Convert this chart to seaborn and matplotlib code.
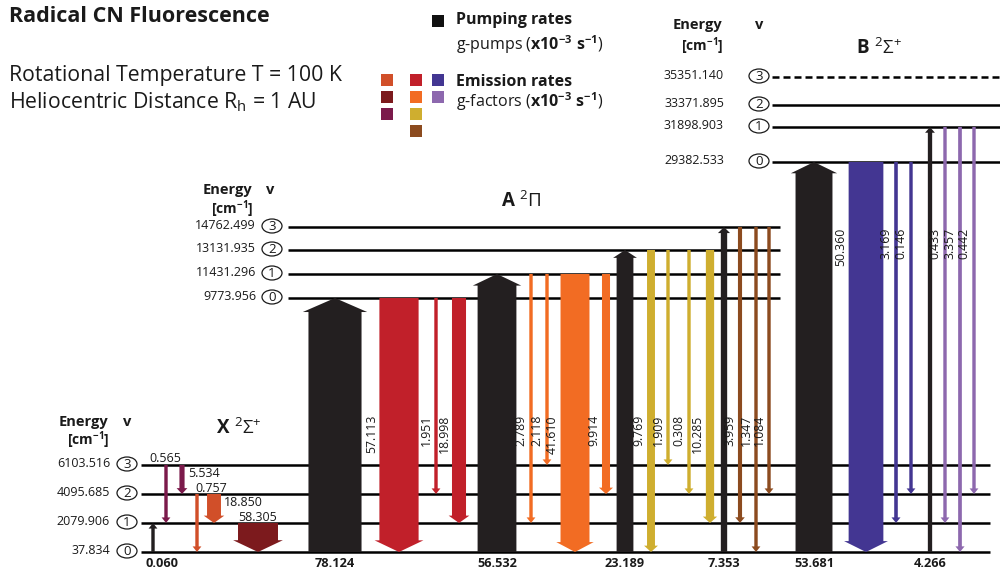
import matplotlib
matplotlib.use("Agg")
import matplotlib.pyplot as plt
from matplotlib.patches import FancyArrow, Ellipse
import pandas as pd
import seaborn as sns

# ---------------- data ----------------
# vibrational term energies (cm^-1) of the three electronic states, v = 0..3
x_energy = ["37.834", "2079.906", "4095.685", "6103.516"]
a_energy = ["9773.956", "11431.296", "13131.935", "14762.499"]
b_energy = ["29382.533", "31898.903", "33371.895", "35351.140"]

# pumping rates out of X(v=0) (x10^-3 s^-1)
pump_upper = ["X1", "A0", "A1", "A2", "A3", "B0", "B1"]
pump_rates = [0.060, 78.124, 56.532, 23.189, 7.353, 53.681, 4.266]

# emission rates, g-factors (x10^-3 s^-1)
emit_upper = ["X3", "X3", "X2", "X2", "X1",
              "A0", "A0", "A0",
              "A1", "A1", "A1", "A1",
              "A2", "A2", "A2", "A2",
              "A3", "A3", "A3",
              "B0", "B0", "B0",
              "B1", "B1", "B1"]
emit_lower = ["X1", "X2", "X0", "X1", "X0",
              "X0", "X2", "X1",
              "X1", "X3", "X0", "X2",
              "X0", "X3", "X2", "X1",
              "X1", "X0", "X2",
              "X0", "X1", "X2",
              "X1", "X0", "X2"]
emit_rates = [0.565, 5.534, 0.757, 18.850, 58.305,
              57.113, 1.951, 18.998,
              2.789, 2.118, 41.610, 9.914,
              9.769, 1.909, 0.308, 10.285,
              3.959, 1.347, 1.084,
              50.360, 3.169, 0.146,
              0.433, 3.357, 0.442]

# ---------------- layout of the schematic (pixel units) ----------------
level_y = {"X": [552, 523, 494, 465], "A": [298, 274, 250, 227], "B": [162, 127, 105, 77]}
level_span = {"X": (141, 990), "A": (288, 780), "B": (772, 1000)}
value_right = {"X": 110, "A": 256, "B": 724}
circle_x = {"X": 127, "A": 272, "B": 759}
header_pos = {"X": (108, 422, 440, 127), "A": (252, 190, 209, 270), "B": (722, 25, 46, 759)}
state_title = {"X": (239, 428, r"$\mathbf{X}\ {}^{2}\Sigma^{+}$"),
               "A": (521, 201, r"$\mathbf{A}\ {}^{2}\Pi$"),
               "B": (879, 48, r"$\mathbf{B}\ {}^{2}\Sigma^{+}$")}

pump_x = [153, 335, 497, 625, 724, 814, 930]
pump_label_dx = [9, 0, 0, 0, 0, 0, 0]
emit_x = [166, 182, 197, 214, 258,
          399, 436, 459,
          531, 547, 575, 606,
          651, 668, 689, 710,
          740, 756, 769,
          866, 896, 911,
          945, 960, 974]
# horizontal labels for transitions inside X: (dx, baseline offset from upper level, ha)
x_label_place = [(-1, -3, "center"), (6, 12, "left"), (-2, -2, "left"),
                 (10, 12, "left"), (0, -2, "center")]
rot_label_top = {"A": 415, "B": 228}

upper_color = {"X3": "#7b1a4b", "X2": "#d14f29", "X1": "#7c1a1d",
               "A0": "#c1202a", "A1": "#f26c23", "A2": "#cfae2f", "A3": "#8c4b1f",
               "B0": "#433692", "B1": "#8d68ae"}
pump_color = "#231f20"


def ypos(level):
    return level_y[level[0]][int(level[1])]


def shaft(rate):
    return max(0.66 * rate + 1.5, 3.4)


def arrow(ax, x, y0, y1, rate, color):
    w = shaft(rate)
    ax.add_patch(FancyArrow(x, y0, 0, y1 - y0, width=w, head_width=1.12 * w + 5,
                            head_length=5 + 0.17 * w, length_includes_head=True,
                            color=color, lw=0, zorder=3))
    return w


# ---------------- figure ----------------
sns.set_theme(style="white")
plt.rcParams["font.family"] = ["Open Sans", "DejaVu Sans"]
plt.rcParams["mathtext.fontset"] = "custom"
plt.rcParams["mathtext.rm"] = "Open Sans"
plt.rcParams["mathtext.bf"] = "Open Sans:bold"
plt.rcParams["mathtext.it"] = "Open Sans:italic"

fig = plt.figure(figsize=(10, 5.72), dpi=100)
ax = fig.add_axes([0, 0, 1, 1])
ax.set_xlim(0, 1000)
ax.set_ylim(572, 0)
ax.axis("off")

ink = "#1a1a1a"

# energy levels, values and vibrational quantum numbers
energies = {"X": x_energy, "A": a_energy, "B": b_energy}
for st, vals in energies.items():
    x0, x1 = level_span[st]
    for v, (e, y) in enumerate(zip(vals, level_y[st])):
        ls = (0, (2.8, 1.6)) if (st == "B" and v == 3) else "-"
        ax.plot([x0, x1], [y, y], color="black", lw=1.8, ls=ls, zorder=1,
                solid_capstyle="butt")
        ax.text(value_right[st], y + 2, e, ha="right", va="baseline", fontsize=9, color=ink)
        ax.add_patch(Ellipse((circle_x[st], y - 1), 20, 14, fc="white", ec=ink, lw=0.9, zorder=2))
        ax.text(circle_x[st], y - 0.5, str(v), ha="center", va="center", fontsize=9.5, color=ink, zorder=3)
    hx, hy1, hy2, vx = header_pos[st]
    ax.text(hx, hy1, "Energy", ha="right", va="center", fontsize=10.5, fontweight="bold", color=ink)
    ax.text(vx, hy1, "v", ha="center", va="center", fontsize=10.5, fontweight="bold", color=ink)
    ax.text(hx + 2, hy2, "[cm$^{\\mathbf{-1}}$]", ha="right", va="center", fontsize=10,
            fontweight="bold", color=ink)
    tx, ty, tt = state_title[st]
    ax.text(tx, ty, tt, ha="center", va="center", fontsize=13.5, color=ink)

# pumping arrows
for up, r, x, dx in zip(pump_upper, pump_rates, pump_x, pump_label_dx):
    arrow(ax, x, level_y["X"][0], ypos(up), r, pump_color)
    ax.text(x + dx, 567, f"{r:.3f}", ha="center", va="baseline", fontsize=9.2,
            fontweight="bold", color=ink)

# emission arrows
k = 0
for up, lo, r, x in zip(emit_upper, emit_lower, emit_rates, emit_x):
    w = arrow(ax, x, ypos(up), ypos(lo), r, upper_color[up])
    if up[0] == "X":
        dx, dy, ha = x_label_place[k]
        k += 1
        ax.text(x + dx, ypos(up) + dy, f"{r:.3f}", ha=ha, va="baseline",
                fontsize=9, color=ink)
    else:
        ax.text(x - w / 2 - 1.5, rot_label_top[up[0]], f"{r:.3f}", rotation=90,
                ha="right", va="top", fontsize=8.8, color=ink)

# title block
ax.text(9, 17, "Radical CN Fluorescence", ha="left", va="center", fontsize=15.5,
        fontweight="bold", color=ink)
ax.text(9, 75, "Rotational Temperature T = 100 K", ha="left", va="center",
        fontsize=15.3, color=ink)
ax.text(9, 102, r"Heliocentric Distance R$_\mathregular{h}$ = 1 AU", ha="left",
        va="center", fontsize=15.3, color=ink)

# legend swatches
sw = pd.DataFrame({
    "x": [438, 387, 387, 387, 416, 416, 416, 416, 438, 438],
    "y": [21, 80, 97, 114, 80, 97, 114, 131, 80, 97],
    "key": ["pump", "X2", "X1", "X3", "A0", "A1", "A2", "A3", "B0", "B1"],
})
pal = dict(upper_color, pump="#111111")
sns.scatterplot(data=sw, x="x", y="y", hue="key", palette=pal, marker="s", s=64,
                linewidth=0, legend=False, ax=ax, zorder=4)
ax.set_xlim(0, 1000)
ax.set_ylim(572, 0)
ax.axis("off")

ax.text(456, 20, "Pumping rates", ha="left", va="center", fontsize=11.5,
        fontweight="bold", color=ink)
ax.text(456, 45, r"g-pumps ($\mathbf{x10^{-3}\ s^{-1}}$)", ha="left", va="center",
        fontsize=11.5, color=ink)
ax.text(456, 82, "Emission rates", ha="left", va="center", fontsize=11.5,
        fontweight="bold", color=ink)
ax.text(456, 102, r"g-factors ($\mathbf{x10^{-3}\ s^{-1}}$)", ha="left", va="center",
        fontsize=11.5, color=ink)

fig.savefig("out.png", dpi=100)
